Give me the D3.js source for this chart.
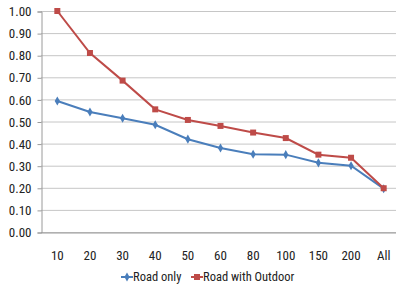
<!DOCTYPE html>
<html>
<head>
<meta charset="utf-8">
<script src="https://cdn.jsdelivr.net/npm/d3@7"></script>
<style>
  body { margin: 0; background: #fff; }
  text { font-family: "Liberation Sans Narrow", "Roboto Condensed", "Liberation Sans", sans-serif; fill: #222; }
</style>
</head>
<body>
<div id="chart"></div>
<script>
// Chart data
var categories = ["10", "20", "30", "40", "50", "60", "80", "100", "150", "200", "All"];
var roadOnly = [0.593, 0.543, 0.515, 0.485, 0.420, 0.380, 0.352, 0.350, 0.313, 0.300, 0.196];
var roadOutdoor = [1.000, 0.810, 0.685, 0.555, 0.507, 0.480, 0.450, 0.425, 0.350, 0.336, 0.198];
var yTicks = [0, 0.1, 0.2, 0.3, 0.4, 0.5, 0.6, 0.7, 0.8, 0.9, 1.0];
var seriesNames = ["Road only", "Road with Outdoor"];

var svgWidth = 396;
var svgHeight = 298;

var margin = { top: 11, right: -4, bottom: 66, left: 41 };
var width = svgWidth - margin.left - margin.right;
var height = svgHeight - margin.top - margin.bottom;

var svg = d3.select("#chart")
  .append("svg")
  .attr("width", svgWidth)
  .attr("height", svgHeight);

var chartGroup = svg.append("g")
  .attr("transform", `translate(${margin.left}, ${margin.top})`);

var xScale = d3.scaleBand()
  .domain(categories)
  .range([0, width]);

var yScale = d3.scaleLinear()
  .domain([0, 1])
  .range([height, 0]);

// gridlines
chartGroup.append("g")
  .selectAll("line")
  .data(yTicks)
  .enter()
  .append("line")
  .attr("x1", 0)
  .attr("x2", width)
  .attr("y1", d => yScale(d) + 0.5)
  .attr("y2", d => yScale(d) + 0.5)
  .attr("stroke", "#c6c6c6")
  .attr("stroke-width", 1);

// left axis
var leftAxis = d3.axisLeft(yScale)
  .tickValues(yTicks)
  .tickFormat(d3.format(".2f"))
  .tickSize(4)
  .tickPadding(6);

var yAxisG = chartGroup.append("g")
  .attr("transform", "translate(0.5, 0.5)")
  .call(leftAxis);
yAxisG.select(".domain").attr("stroke", "#9a9a9a");
yAxisG.selectAll(".tick line").attr("stroke", "#9a9a9a");
yAxisG.selectAll("text")
  .attr("font-size", "13px")
  .style("fill", "#222");

// bottom axis (labels only)
var bottomAxis = d3.axisBottom(xScale).tickSize(0).tickPadding(18);
var xAxisG = chartGroup.append("g")
  .attr("transform", `translate(0, ${height + 0.5})`)
  .call(bottomAxis);
xAxisG.select(".domain").attr("stroke", "#9a9a9a");
xAxisG.selectAll("text")
  .attr("font-size", "13px")
  .style("fill", "#222");

var xPos = (d, i) => xScale(categories[i]) + xScale.bandwidth() / 2;

var line = d3.line()
  .x((d, i) => xPos(d, i))
  .y(d => yScale(d));

var blue = "#4a7ebb";
var red = "#be4b48";

// Road only
chartGroup.append("path")
  .datum(roadOnly)
  .attr("d", line)
  .attr("fill", "none")
  .attr("stroke", blue)
  .attr("stroke-width", 2);

// Road with Outdoor
chartGroup.append("path")
  .datum(roadOutdoor)
  .attr("d", line)
  .attr("fill", "none")
  .attr("stroke", red)
  .attr("stroke-width", 2);

var diamond = d3.symbol().type(d3.symbolDiamond).size(24);
var square = d3.symbol().type(d3.symbolSquare).size(36);

chartGroup.selectAll(".blueMark")
  .data(roadOnly)
  .enter()
  .append("path")
  .attr("class", "blueMark")
  .attr("d", diamond)
  .attr("transform", (d, i) => `translate(${xPos(d, i)}, ${yScale(d)})`)
  .attr("fill", blue);

chartGroup.selectAll(".redMark")
  .data(roadOutdoor)
  .enter()
  .append("path")
  .attr("class", "redMark")
  .attr("d", square)
  .attr("transform", (d, i) => `translate(${xPos(d, i)}, ${yScale(d)})`)
  .attr("fill", red);

// Legend
var legendY = 277;
var legend = svg.append("g");
var legendItems = [
  { name: seriesNames[0], color: blue, sym: diamond, x: 121 },
  { name: seriesNames[1], color: red, sym: square, x: 191 }
];
legendItems.forEach(function(item) {
  legend.append("line")
    .attr("x1", item.x)
    .attr("x2", item.x + 12)
    .attr("y1", legendY)
    .attr("y2", legendY)
    .attr("stroke", item.color)
    .attr("stroke-width", 2);
  legend.append("path")
    .attr("d", item.sym)
    .attr("transform", `translate(${item.x + 6}, ${legendY})`)
    .attr("fill", item.color);
  legend.append("text")
    .attr("x", item.x + 12)
    .attr("y", legendY)
    .attr("dy", "0.35em")
    .attr("font-size", "12.5px")
    .text(item.name);
});
</script>
</body>
</html>
